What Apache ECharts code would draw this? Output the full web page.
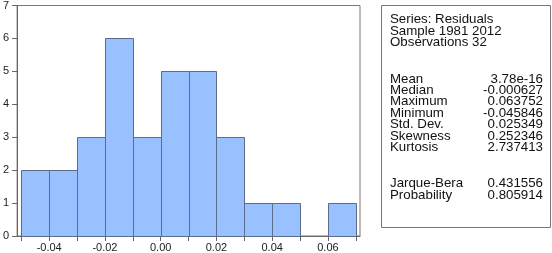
<!DOCTYPE html>
<html><head><meta charset="utf-8">
<script src="https://cdn.jsdelivr.net/npm/echarts@6/dist/echarts.min.js"></script>
<style>html,body{margin:0;padding:0;background:#fff}#c{width:552px;height:253px}</style>
</head><body><div id="c"></div>
<script>
var binStart = [-0.05,-0.04,-0.03,-0.02,-0.01,0.00,0.01,0.02,0.03,0.04,0.05,0.06];
var binEnd   = [-0.04,-0.03,-0.02,-0.01,0.00,0.01,0.02,0.03,0.04,0.05,0.06,0.07];
var counts   = [2,2,3,6,3,5,5,3,1,1,0,1];
var xTickValues  = [-0.05,-0.04,-0.03,-0.02,-0.01,0.00,0.01,0.02,0.03,0.04,0.05,0.06,0.07];
var xLabelValues = [-0.04,-0.02,0.00,0.02,0.04,0.06];
var headerLines = ["Series: Residuals","Sample 1981 2012","Observations 32"];
var statNames  = ["Mean","Median","Maximum","Minimum","Std. Dev.","Skewness","Kurtosis"];
var statValues = ["3.78e-16","-0.000627","0.063752","-0.045846","0.025349","0.252346","2.737413"];
var testNames  = ["Jarque-Bera","Probability"];
var testValues = ["0.431556","0.805914"];

var FONT = "'Liberation Sans', Arial, sans-serif";
var TF = '13.3px ' + FONT;
var data = binStart.map(function(s,i){return [s, binEnd[i], counts[i]];});
var chart = echarts.init(document.getElementById('c'), null, {renderer:'canvas'});

var graphics = [{
  type:'rect', shape:{x:381.5,y:5.5,width:169,height:222},
  style:{fill:'#fff', stroke:'#777', lineWidth:1}
}];
var lh = 11.4;
headerLines.forEach(function(t,i){
  graphics.push({type:'text', x:390, y:19.5+i*lh, style:{text:t, font:TF, fill:'#111', textVerticalAlign:'middle'}});
});
statNames.forEach(function(t,i){
  graphics.push({type:'text', x:390, y:79+i*lh, style:{text:t, font:TF, fill:'#111', textVerticalAlign:'middle'}});
  graphics.push({type:'text', x:543, y:79+i*lh, style:{text:statValues[i], font:TF, fill:'#111', textAlign:'right', textVerticalAlign:'middle'}});
});
testNames.forEach(function(t,i){
  graphics.push({type:'text', x:390, y:183.5+i*lh, style:{text:t, font:TF, fill:'#111', textVerticalAlign:'middle'}});
  graphics.push({type:'text', x:543, y:183.5+i*lh, style:{text:testValues[i], font:TF, fill:'#111', textAlign:'right', textVerticalAlign:'middle'}});
});

chart.setOption({
  animation:false,
  grid:{left:15, top:5, width:345, height:231.7, show:true, borderColor:'#777', borderWidth:1, backgroundColor:'#fff'},
  xAxis:{
    type:'value', min:-0.0515, max:0.0715,
    splitLine:{show:false},
    axisLine:{show:true, onZero:false, lineStyle:{color:'#666'}},
    axisTick:{show:true, length:5, customValues:xTickValues, lineStyle:{color:'#666'}},
    axisLabel:{customValues:xLabelValues, margin:6, fontSize:11, fontFamily:FONT, color:'#222',
      formatter:function(v){return v.toFixed(2);}}
  },
  yAxis:{
    type:'value', min:0, max:7, interval:1,
    splitLine:{show:false},
    axisLine:{show:true, onZero:false, lineStyle:{color:'#666'}},
    axisTick:{show:true, length:5, lineStyle:{color:'#666'}},
    axisLabel:{margin:8, fontSize:11, fontFamily:FONT, color:'#222'}
  },
  series:[{
    type:'custom',
    data:data,
    encode:{x:[0,1], y:2},
    renderItem:function(params, api){
      var c = api.value(2);
      if (!c) return null;
      var p0 = api.coord([api.value(0), 0]);
      var p1 = api.coord([api.value(1), c]);
      return {type:'rect',
        shape:{x:Math.round(p0[0])+0.5, y:Math.round(p1[1])+0.5, width:Math.round(p1[0])-Math.round(p0[0]), height:Math.round(p0[1])-Math.round(p1[1])},
        style:{fill:'#99c0ff', stroke:'#5b6b88', lineWidth:1}};
    }
  }],
  graphic:graphics
});
</script></body></html>
